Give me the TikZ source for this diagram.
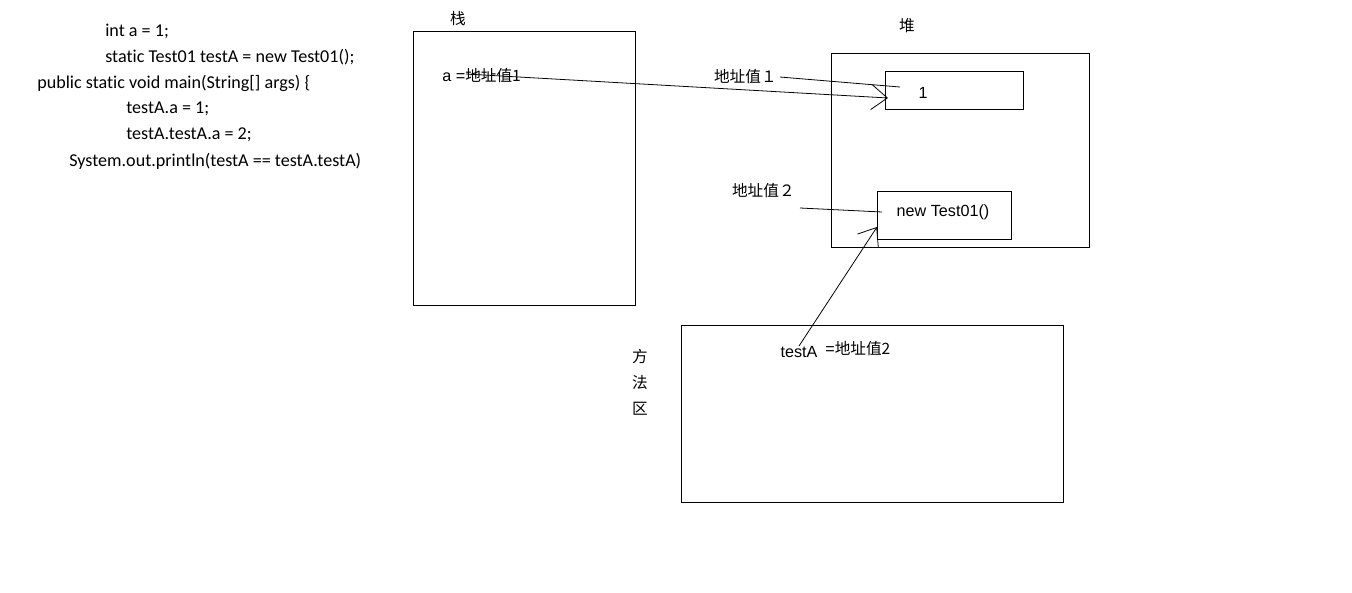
\documentclass[tikz,border=0pt]{standalone}
\usepackage{fontspec}
\setmainfont{Carlito}[Ligatures=NoCommon]
\newfontfamily\cjk{Noto Sans CJK SC}
\newfontfamily\ui{Liberation Sans}
\usetikzlibrary{arrows.meta}

\tikzset{
  code/.style={anchor=west,inner sep=0pt,font=\fontsize{10.3}{12}\selectfont},
  lbl/.style={inner sep=0pt,font=\fontsize{9.2}{11}\selectfont},
  region/.style={draw,line width=0.45pt},
  wire/.style={line width=0.45pt},
  ref/.style={wire,-{Straight Barb[length=3.2mm,width=5mm,line width=0.45pt]}}
}

\begin{document}
\begin{tikzpicture}[x=0.02cm,y=-0.02cm]
\useasboundingbox (0,0) rectangle (1352,592);

% code
\node[code] (l1) at (105,31) {int a = 1;};
\node[code] (l2) at (105,57) {static Test01 testA = new Test01();};
\node[code] (l3) at (37,83) {public static void main(String[] args) \{};
\node[code] (l4) at (126,109) {testA.a = 1;};
\node[code] (l5) at (126,135) {testA.testA.a = 2;};
\node[code] (l6) at (69,161) {System.out.println(testA == testA.testA)};

% stack
\draw[region] (413,31) rectangle (635,305);
\node[lbl] (stack) at (458,19) {\cjk\fontsize{8.9}{11}\selectfont 栈};
\node[lbl,anchor=west] (aval) at (442,76) {\ui a =\cjk\fontsize{8.9}{11}\selectfont 地址值1};
\coordinate (astart) at (466,74);

% heap
\draw[region] (831,53) rectangle (1089,247);
\node[lbl] (heap) at (907,26) {\cjk\fontsize{8.9}{11}\selectfont 堆};
\draw[region] (885,71) rectangle (1023,109);
\node[lbl] (one) at (923,93) {\ui 1};
\coordinate (oneend) at (888,98);
\coordinate (onein) at (900,87);
\node[lbl,anchor=east] (addr1) at (777,77) {\cjk\fontsize{8.9}{11}\selectfont 地址值１};
\draw[region] (877,191) rectangle (1011,239);
\node[lbl] (obj) at (943,212) {\ui new Test01()};
\coordinate (objin) at (882,212);
\coordinate (objend) at (877,227);
\node[lbl,anchor=east] (addr2) at (795,191) {\cjk\fontsize{8.9}{11}\selectfont 地址值２};
\coordinate (addr2s) at (800,208);

% method area
\draw[region] (681,325) rectangle (1063,502);
\node[lbl,align=center,font=\cjk\fontsize{8.9}{14.7}\selectfont] (meth) at (640,382) {方\\法\\区};
\node[lbl] (testA) at (799,352) {\ui testA};
\node[lbl,anchor=west] (tval) at (825,349) {\ui =\cjk\fontsize{8.9}{11}\selectfont 地址值2};

% links
\draw[ref] (astart) -- (oneend);
\draw[wire] (addr1.east) ++(3,0) -- (onein);
\draw[wire] (addr2s) -- (objin);
\draw[ref] (testA.north) -- (objend);
\end{tikzpicture}
\end{document}
